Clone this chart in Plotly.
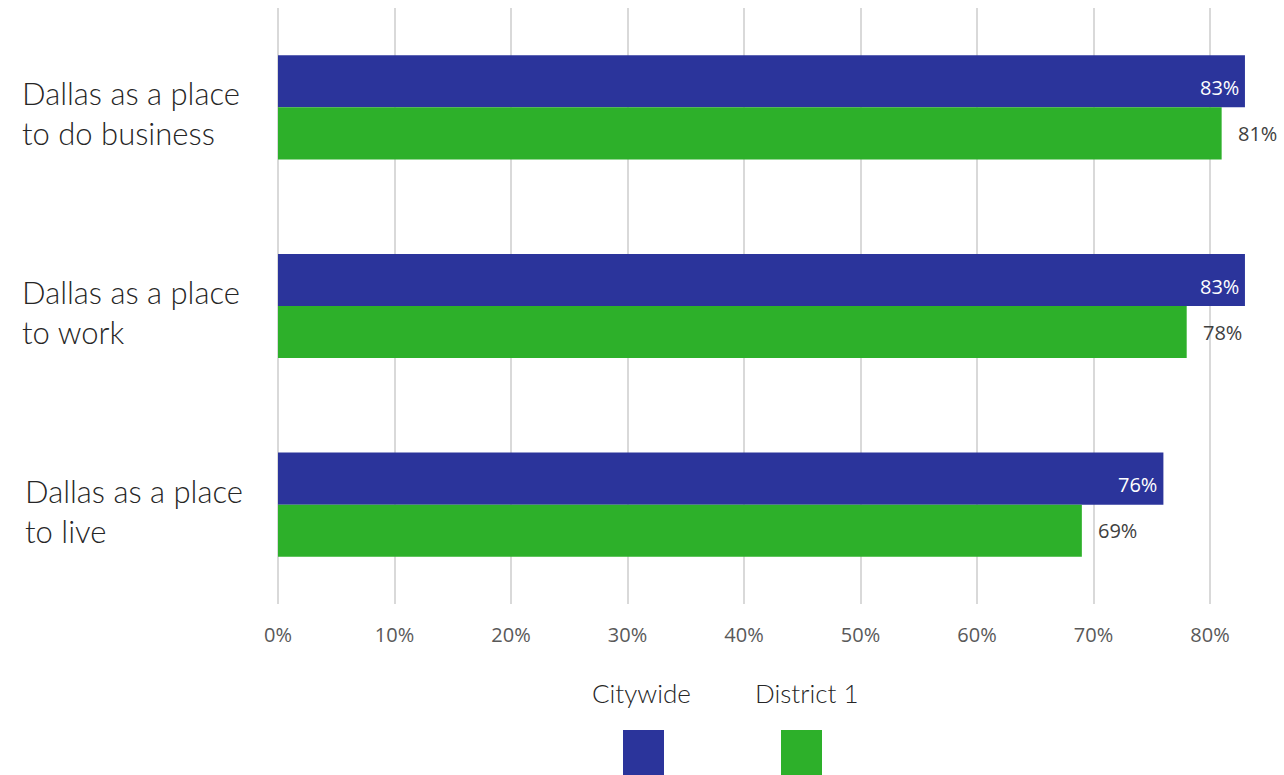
import plotly.graph_objects as go

# Survey ratings by topic
categories = ["Dallas as a place<br>to do business",
              "Dallas as a place<br>to work",
              "Dallas as a place<br>to live"]
citywide = [83, 83, 76]
district1 = [81, 78, 69]
tick_vals = [0, 10, 20, 30, 40, 50, 60, 70, 80]
tick_text = ["0%", "10%", "20%", "30%", "40%", "50%", "60%", "70%", "80%"]

BLUE = "#2B349B"
GREEN = "#2DB02A"
W, H = 1284, 775
L, R, T, B = 278, 0, 8, 171
PW, PH = W - L - R, H - T - B
NUM_FONT = "Open Sans"


def px_x(x):
    return (x - L) / PW


def px_y(y):
    return (H - B - y) / PH


fig = go.Figure()
fig.add_trace(go.Bar(
    y=categories, x=citywide, orientation="h", name="Citywide",
    marker=dict(color=BLUE, line=dict(width=0)),
))
fig.add_trace(go.Bar(
    y=categories, x=district1, orientation="h", name="District 1",
    marker=dict(color=GREEN, line=dict(width=0)),
))

# Value labels: white inside the end of Citywide bars, grey past District 1 bars
for c, v in zip(categories, citywide):
    fig.add_annotation(
        x=v, y=c, xref="x", yref="y", text=f"{v}%", showarrow=False,
        xanchor="right", yanchor="middle", xshift=-4, yshift=20,
        font=dict(family=NUM_FONT, size=20, color="white"),
    )
for c, v in zip(categories, district1):
    fig.add_annotation(
        x=v, y=c, xref="x", yref="y", text=f"{v}%", showarrow=False,
        xanchor="left", yanchor="middle", xshift=14, yshift=-26,
        font=dict(family=NUM_FONT, size=20, color="#404040"),
    )

# Left-aligned category labels
label_x = [20, 20, 23]
for c, lx in zip(categories, label_x):
    fig.add_annotation(
        x=px_x(lx), xref="paper", xanchor="left",
        y=c, yref="y", yanchor="middle", yshift=-6,
        text=c, showarrow=False, align="left",
        font=dict(family="Lato", size=31, color="#262626", weight=300),
    )

# Legend: names above colour swatches
legend_items = [("Citywide", BLUE, 641.5, 643.5),
                ("District 1", GREEN, 806, 801.5)]
for name, color, tx, sx in legend_items:
    fig.add_annotation(
        x=px_x(tx), xref="paper", y=px_y(693), yref="paper",
        text=name, showarrow=False, xanchor="center", yanchor="middle",
        font=dict(family="Lato", size=26, color="#262626", weight=300),
    )
    fig.add_shape(
        type="rect", xref="paper", yref="paper",
        x0=px_x(sx - 20.5), x1=px_x(sx + 20.5),
        y0=px_y(775), y1=px_y(730),
        fillcolor=color, line=dict(width=0),
    )

fig.update_layout(
    width=W, height=H,
    margin=dict(l=L, r=R, t=T, b=B),
    plot_bgcolor="white", paper_bgcolor="white",
    barmode="group", bargap=0.476, bargroupgap=0,
    showlegend=False,
    xaxis=dict(
        range=[0, PW / 11.65], tickvals=tick_vals, ticktext=tick_text,
        showgrid=True, gridcolor="#D9D9D9", gridwidth=2,
        zeroline=True, zerolinecolor="#D9D9D9", zerolinewidth=2,
        tickfont=dict(family=NUM_FONT, size=20, color="#595959"),
        ticks="", ticklabelstandoff=17, fixedrange=True,
    ),
    yaxis=dict(autorange="reversed", showticklabels=False,
               showgrid=False, zeroline=False, ticks=""),
)

fig.write_html("out.html")
